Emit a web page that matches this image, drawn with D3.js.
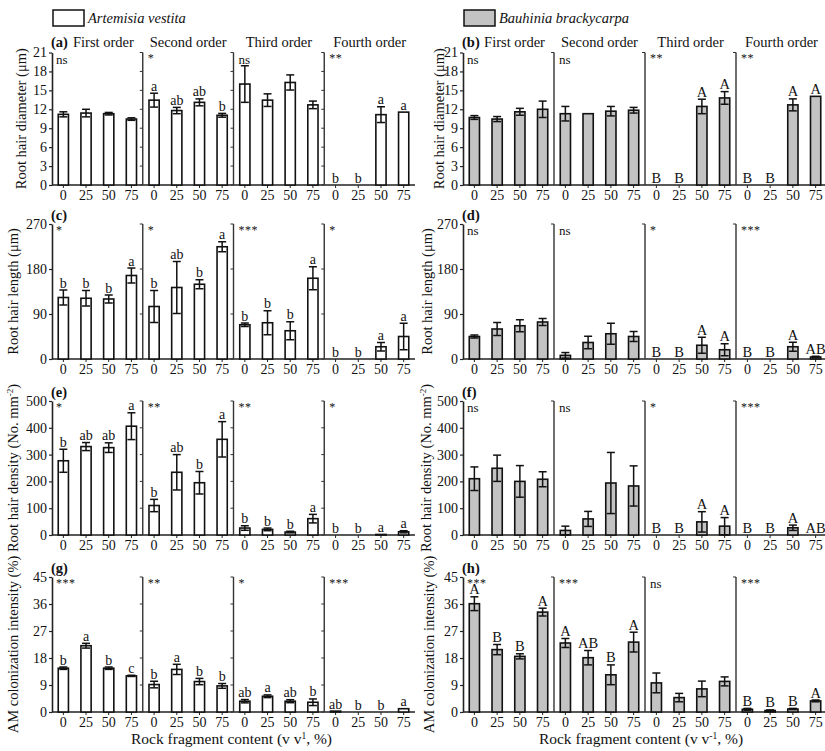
<!DOCTYPE html>
<html><head><meta charset="utf-8">
<script src="https://cdn.jsdelivr.net/npm/d3@7"></script>
<style>body{margin:0;background:#fff} svg, svg text{font-family:'Liberation Serif','Tinos','Times New Roman','DejaVu Serif',serif !important;} svg text{fill:#111}</style>
</head><body><svg id="c" width="825" height="751" style="font-family:'Liberation Serif','Times New Roman',serif"></svg>
<script>
const rocks = ["0","25","50","75"];
const orders = ["First order","Second order","Third order","Fourth order"];
const species = ["Artemisia vestita","Bauhinia brackycarpa"];
const xTitle = "Rock fragment content (v v";

// (a) Root hair diameter, Artemisia
const diamAVal = [[11.2,11.4,11.3,10.45],[13.45,11.8,13.1,11.05],[16.0,13.45,16.25,12.7],[0,0,11.15,11.55]];
const diamAErr = [[0.4,0.6,0.2,0.2],[1.1,0.5,0.55,0.3],[2.9,1.0,1.2,0.6],[0,0,1.25,0]];
const diamALet = [["","","",""],["a","ab","ab","b"],["","","",""],["b","b","a","a"]];
const diamASig = ["ns","*","ns","**"];
// (b) Root hair diameter, Bauhinia
const diamBVal = [[10.7,10.45,11.6,12.0],[11.3,11.3,11.7,11.85],[0,0,12.45,13.8],[0,0,12.7,14.05]];
const diamBErr = [[0.3,0.4,0.55,1.3],[1.15,0,0.75,0.45],[0,0,1.15,1.0],[0,0,0.95,0]];
const diamBLet = [["","","",""],["","","",""],["B","B","A","A"],["B","B","A","A"]];
const diamBSig = ["ns","ns","**","**"];
// (c) Root hair length, Artemisia
const lenAVal = [[123,121.5,120,167],[105,143,149.5,224.5],[68.5,72.5,56.5,161.5],[0,0,24.5,45]];
const lenAErr = [[15,15.5,8,15],[32,52,9,10],[3.5,24,18,23],[0,0,8.5,26.5]];
const lenALet = [["b","b","b","a"],["b","ab","b","a"],["b","b","b","a"],["b","b","a","a"]];
const lenASig = ["*","*","***","*"];
// (d) Root hair length, Bauhinia
const lenBVal = [[45,60,66.5,74],[7.3,33,50.5,45],[0,0,27.5,18.5],[0,0,24.5,4]];
const lenBErr = [[3,13,12,7],[5.6,12.5,21,10],[0,0,16,12],[0,0,9,1.5]];
const lenBLet = [["","","",""],["","","",""],["B","B","A","A"],["B","B","A","AB"]];
const lenBSig = ["ns","ns","*","***"];
// (e) Root hair density, Artemisia
const denAVal = [[277,330,326,406],[110,234,195,357],[26,21,11,61],[0,0,2,12]];
const denAErr = [[43,15,18,50],[23,66,42,66],[8.5,5,3,16],[0,0,0,4]];
const denALet = [["b","ab","ab","a"],["b","ab","b","a"],["b","b","b","a"],["b","b","a","a"]];
const denASig = ["*","**","**","*"];
// (f) Root hair density, Bauhinia
const denBVal = [[210,249,200,208],[17,60,194,183],[0,0,49,33],[0,0,27,0]];
const denBErr = [[44,49,59,28],[16,28,114,75],[0,0,38,32],[0,0,10,0]];
const denBLet = [["","","",""],["","","",""],["B","B","A","A"],["B","B","A","AB"]];
const denBSig = ["ns","ns","*","***"];
// (g) AM colonization intensity, Artemisia
const amAVal = [[14.6,22.1,14.6,12.05],[9.15,14.2,10.15,8.7],[3.6,5.25,3.6,3.25],[0.3,0,0,1.1]];
const amAErr = [[0.4,0.8,0.4,0.2],[1.1,1.7,1.05,0.8],[0.55,0.45,0.5,1.1],[0,0,0,0]];
const amALet = [["b","a","b","c"],["b","a","b","b"],["ab","a","ab","b"],["ab","b","b","a"]];
const amASig = ["***","**","*","***"];
// (h) AM colonization intensity, Bauhinia
const amBVal = [[36.1,20.8,18.55,33.3],[23,18.1,12.4,23.3],[9.7,4.8,7.7,10.2],[0.9,0.5,1.0,3.7]];
const amBErr = [[2.3,1.7,0.85,1.3],[1.5,2.4,3.3,3.3],[3.3,1.4,2.6,1.5],[0.3,0.2,0.2,0.3]];
const amBLet = [["A","B","B","A"],["A","AB","B","A"],["","","",""],["B","B","B","A"]];
const amBSig = ["***","***","ns","***"];

const diamTicks = [0,3,6,9,12,15,18,21];
const lenTicks = [0,90,180,270];
const denTicks = [0,100,200,300,400,500];
const amTicks = [0,9,18,27,36,45];

const FONT = "'Liberation Serif','Times New Roman',serif";
const svg = d3.select("#c");
const cols = [{x0:52, x1:415, fill:"#ffffff", titleX:22}, {x0:463, x1:827, fill:"#c3c3c3", titleX:434}];
const rows = [{top:52.5,bot:185},{top:224,bot:359},{top:401,bot:535},{top:577,bot:712}];

function panel(ci, ri, o){
  const c = cols[ci], r = rows[ri];
  const g = svg.append("g");
  const y = d3.scaleLinear().domain([0, o.ticks[o.ticks.length-1]]).range([r.bot, r.top]);
  const xo = d3.scaleBand().domain(orders).range([c.x0, c.x1]);
  const xi = d3.scaleBand().domain(rocks).range([0, xo.bandwidth()]).paddingInner(0.55).paddingOuter(0.275);

  const ya = g.append("g").attr("transform",`translate(${c.x0},0)`)
    .call(d3.axisLeft(y).tickValues(o.ticks).tickSize(3).tickSizeOuter(0).tickPadding(2).tickFormat(d3.format("d")));
  ya.attr("font-family", FONT);
  ya.select(".domain").attr("stroke","#222").attr("stroke-width",1.6);
  ya.selectAll(".tick line").attr("stroke","#222").attr("stroke-width",1.2);
  ya.selectAll(".tick text").style("font-size","14px").attr("fill","#222");

  g.append("line").attr("x1",c.x0).attr("x2",c.x1).attr("y1",r.bot).attr("y2",r.bot)
    .attr("stroke","#222").attr("stroke-width",1.6);

  orders.forEach((ord, oi) => {
    const sx = xo(ord);
    if (oi > 0) {
      g.append("line").attr("x1",sx).attr("x2",sx).attr("y1",r.top).attr("y2",r.bot)
        .attr("stroke","#333").attr("stroke-width",1.4);
      if (ci === 0) {
        g.selectAll(null).data(o.ticks).enter().append("line")
          .attr("x1",sx-3).attr("x2",sx).attr("y1",d=>y(d)).attr("y2",d=>y(d))
          .attr("stroke","#333").attr("stroke-width",1);
      } else {
        g.append("line").attr("x1",sx-3).attr("x2",sx).attr("y1",r.top).attr("y2",r.top)
          .attr("stroke","#333").attr("stroke-width",1);
      }
    }
    const sig = o.sig[oi];
    g.append("text").attr("x", sx + (oi===0?4:5)).attr("y", r.top + (sig==="ns"?11:9.5))
      .style("font-size", sig==="ns"?"13px":"12px").style("letter-spacing", sig==="ns"?"0":"0.5px").text(sig);

    rocks.forEach((rk, k) => {
      const v = o.vals[oi][k], e = o.errs[oi][k];
      const cx = sx + xi(rk) + xi.bandwidth()/2;
      g.append("line").attr("x1",cx).attr("x2",cx).attr("y1",r.bot).attr("y2",r.bot+3)
        .attr("stroke","#222").attr("stroke-width",1);
      g.append("text").attr("x",cx).attr("y",r.bot+15).attr("text-anchor","middle")
        .style("font-size","14px").text(rk);
      if (v > 0) {
        g.append("rect").attr("x", sx + xi(rk)).attr("width", xi.bandwidth())
          .attr("y", y(v)).attr("height", y(0) - y(v))
          .attr("fill", c.fill).attr("stroke","#111").attr("stroke-width",1.6);
      }
      if (e > 0) {
        g.append("line").attr("x1",cx).attr("x2",cx).attr("y1",y(v+e)).attr("y2",y(Math.max(0,v-e)))
          .attr("stroke","#111").attr("stroke-width",1.5);
        [v+e, Math.max(0,v-e)].forEach(t => {
          g.append("line").attr("x1",cx-4).attr("x2",cx+4).attr("y1",y(t)).attr("y2",y(t))
            .attr("stroke","#111").attr("stroke-width",1.5);
        });
      }
      const lt = o.lets[oi][k];
      if (lt) {
        g.append("text").attr("x",cx).attr("y", y(v+e) - 2.5).attr("text-anchor","middle")
          .style("font-size", ci===0 ? "14px" : "14.5px").text(lt);
      }
    });

    if (o.titles) {
      const tx = oi === 0 ? sx + xo.bandwidth()/2 + 6 : sx + xo.bandwidth()/2;
      g.append("text").attr("x",tx).attr("y",r.top-6).attr("text-anchor","middle")
        .style("font-size","14.5px").text(ord);
    }
  });

  g.append("text").attr("x", c.x0 - 1).attr("y", r.top - (o.titles?6:4.5))
    .style("font-size","14.5px").style("font-weight","bold").text(o.label);

  const yt = g.append("text").attr("transform",`translate(${c.titleX + (o.titleShift||0)},${(r.top+r.bot)/2}) rotate(-90)`)
    .attr("text-anchor","middle").style("font-size","14.5px");
  o.ytitle.forEach(p => {
    const ts = yt.append("tspan").text(p.t);
    if (p.sup) ts.attr("dy",-5).style("font-size","9px");
    if (p.after) ts.attr("dy",5);
  });

  if (o.xt) {
    const xt = g.append("text").attr("x",(c.x0+c.x1)/2 - 2 - ci*2).attr("y",744).attr("text-anchor","middle")
      .style("font-size","15.5px");
    xt.append("tspan").text(xTitle);
    xt.append("tspan").attr("dy",-5).style("font-size","9.5px").text(ci===0 ? "1" : "-1");
    xt.append("tspan").attr("dy",5).text(", %)");
  }
}

const tDiam = [{t:"Root hair diameter (μm)"}];
const tLen = [{t:"Root hair length (μm)"}];
const tDen = [{t:"Root hair density (No. mm"},{t:"-2",sup:true},{t:")",after:true}];
const tAm = [{t:"AM colonization intensity (%)"}];

panel(0,0,{vals:diamAVal,errs:diamAErr,lets:diamALet,sig:diamASig,ticks:diamTicks,label:"(a)",titles:true,ytitle:tDiam,titleShift:4});
panel(1,0,{vals:diamBVal,errs:diamBErr,lets:diamBLet,sig:diamBSig,ticks:diamTicks,label:"(b)",titles:true,ytitle:tDiam,titleShift:10});
panel(0,1,{vals:lenAVal,errs:lenAErr,lets:lenALet,sig:lenASig,ticks:lenTicks,label:"(c)",ytitle:tLen,titleShift:-4});
panel(1,1,{vals:lenBVal,errs:lenBErr,lets:lenBLet,sig:lenBSig,ticks:lenTicks,label:"(d)",ytitle:tLen,titleShift:-2});
panel(0,2,{vals:denAVal,errs:denAErr,lets:denALet,sig:denASig,ticks:denTicks,label:"(e)",ytitle:tDen,titleShift:-4});
panel(1,2,{vals:denBVal,errs:denBErr,lets:denBLet,sig:denBSig,ticks:denTicks,label:"(f)",ytitle:tDen,titleShift:-3});
panel(0,3,{vals:amAVal,errs:amAErr,lets:amALet,sig:amASig,ticks:amTicks,label:"(g)",ytitle:tAm,xt:true,titleShift:-4});
panel(1,3,{vals:amBVal,errs:amBErr,lets:amBLet,sig:amBSig,ticks:amTicks,label:"(h)",ytitle:tAm,xt:true,titleShift:0});

species.forEach((s, i) => {
  const lx = i === 0 ? 53 : 464;
  svg.append("rect").attr("x",lx).attr("y",10).attr("width",31).attr("height",16)
    .attr("fill", cols[i].fill).attr("stroke","#111").attr("stroke-width",1.5);
  svg.append("text").attr("x",lx+35).attr("y",23).style("font-size","14.5px").style("font-style","italic").text(s);
});
</script></body></html>
